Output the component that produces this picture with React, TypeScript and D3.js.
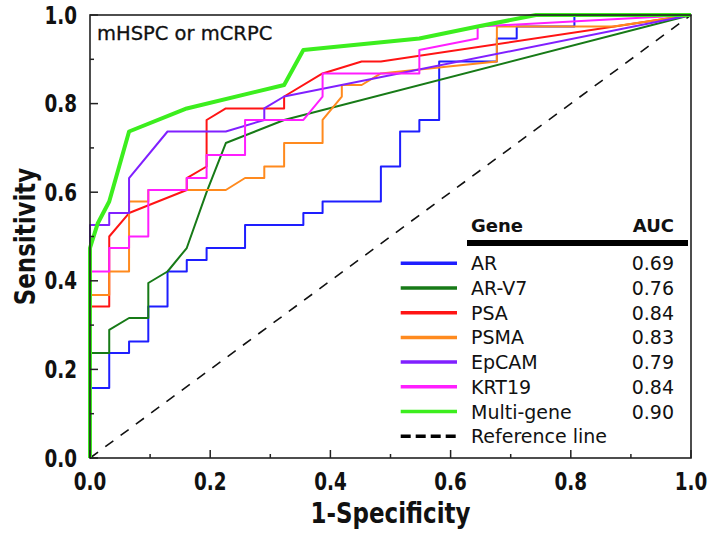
import * as d3 from "d3";

// ROC curves, mHSPC or mCRPC
const genes = ["AR", "AR-V7", "PSA", "PSMA", "EpCAM", "KRT19", "Multi-gene"];
const aucs = ["0.69", "0.76", "0.84", "0.83", "0.79", "0.84", "0.90"];
const colors = ["#1e1eff", "#177a17", "#ff1414", "#ff8a1e", "#8020ff", "#ff1eff", "#3cee1e"];

const arFpr = [0, 0, 0.032, 0.032, 0.065, 0.065, 0.097, 0.097, 0.129, 0.129, 0.161, 0.161, 0.194, 0.194, 0.258, 0.258, 0.355, 0.355, 0.387, 0.387, 0.484, 0.484, 0.516, 0.516, 0.548, 0.548, 0.581, 0.581, 0.677, 0.677, 0.71, 0.71, 0.806, 0.806, 1];
const arTpr = [0, 0.158, 0.158, 0.237, 0.237, 0.263, 0.263, 0.342, 0.342, 0.421, 0.421, 0.447, 0.447, 0.474, 0.474, 0.526, 0.526, 0.553, 0.553, 0.579, 0.579, 0.658, 0.658, 0.737, 0.737, 0.763, 0.763, 0.895, 0.895, 0.947, 0.947, 0.974, 0.974, 1, 1];

const arv7Fpr = [0, 0, 0.032, 0.032, 0.065, 0.097, 0.097, 0.129, 0.161, 0.194, 0.226, 0.323, 1];
const arv7Tpr = [0, 0.237, 0.237, 0.289, 0.316, 0.316, 0.395, 0.421, 0.474, 0.6, 0.711, 0.763, 1];

const psaFpr = [0, 0, 0.032, 0.032, 0.065, 0.161, 0.161, 0.194, 0.194, 0.226, 0.323, 0.323, 0.387, 0.452, 0.484, 1];
const psaTpr = [0, 0.342, 0.342, 0.5, 0.553, 0.605, 0.632, 0.658, 0.763, 0.789, 0.789, 0.816, 0.868, 0.895, 0.895, 1];

const psmaFpr = [0, 0, 0.032, 0.032, 0.065, 0.065, 0.097, 0.097, 0.226, 0.258, 0.29, 0.29, 0.323, 0.323, 0.387, 0.387, 0.419, 0.419, 0.452, 0.484, 0.677, 0.677, 0.871, 1];
const psmaTpr = [0, 0.368, 0.368, 0.421, 0.421, 0.579, 0.579, 0.605, 0.605, 0.632, 0.632, 0.658, 0.658, 0.711, 0.711, 0.763, 0.816, 0.842, 0.842, 0.868, 0.895, 0.974, 0.974, 1];

const epcamFpr = [0, 0, 0.032, 0.032, 0.065, 0.065, 0.129, 0.226, 0.29, 0.29, 0.323, 1];
const epcamTpr = [0, 0.526, 0.526, 0.553, 0.553, 0.632, 0.737, 0.737, 0.763, 0.789, 0.816, 1];

const krt19Fpr = [0, 0, 0.032, 0.032, 0.065, 0.065, 0.097, 0.097, 0.161, 0.161, 0.194, 0.194, 0.258, 0.258, 0.355, 0.387, 0.387, 0.548, 0.548, 0.645, 0.645, 1];
const krt19Tpr = [0, 0.421, 0.421, 0.474, 0.474, 0.5, 0.5, 0.605, 0.605, 0.632, 0.632, 0.684, 0.684, 0.763, 0.763, 0.816, 0.868, 0.868, 0.921, 0.947, 0.974, 1];

const multiFpr = [0, 0, 0.013, 0.032, 0.065, 0.161, 0.323, 0.355, 0.548, 0.645, 0.742, 1];
const multiTpr = [0, 0.474, 0.53, 0.579, 0.737, 0.789, 0.842, 0.921, 0.947, 0.974, 1, 1];

const fprs = [arFpr, arv7Fpr, psaFpr, psmaFpr, epcamFpr, krt19Fpr, multiFpr];
const tprs = [arTpr, arv7Tpr, psaTpr, psmaTpr, epcamTpr, krt19Tpr, multiTpr];

const tickValues = [0, 0.2, 0.4, 0.6, 0.8, 1];
const tickLabels = ["0.0", "0.2", "0.4", "0.6", "0.8", "1.0"];

const W = 709;
const H = 533;
const labelFont = "'DejaVu Sans Condensed', 'DejaVu Sans', sans-serif";
const textFont = "'DejaVu Sans', sans-serif";

export default function App() {
  const x = d3.scaleLinear().domain([0, 1]).range([90, 691]);
  const y = d3.scaleLinear().domain([0, 1]).range([458, 15]);

  const line = d3
    .line<[number, number]>()
    .x((d) => x(d[0]))
    .y((d) => y(d[1]));

  const minor = x.ticks(10).filter((t) => !tickValues.some((m) => Math.abs(m - t) < 1e-6));

  const legendY = (i: number) => 263.3 + i * 24.7;

  return (
    <div style={{ position: "fixed", left: 0, top: 0 }}>
      <svg width={W} height={H} style={{ display: "block", background: "#fff" }}>
        {/* reference line */}
        <path
          d={line([[0, 0], [1, 1]]) ?? ""}
          fill="none"
          stroke="#111"
          strokeWidth={1.6}
          strokeDasharray="10,9"
        />

        {/* ROC curves */}
        {genes.map((g, i) => (
          <path
            key={g}
            d={line(fprs[i].map((f, k) => [f, tprs[i][k]] as [number, number])) ?? ""}
            fill="none"
            stroke={colors[i]}
            strokeWidth={g === "Multi-gene" ? 4 : 2}
            strokeLinejoin="round"
          />
        ))}

        {/* frame */}
        <rect x={x(0)} y={y(1)} width={x(1) - x(0)} height={y(0) - y(1)} fill="none" stroke="#222" strokeWidth={1.6} />

        {/* ticks */}
        {tickValues.map((t) => (
          <g key={"maj" + t}>
            <line x1={x(t)} x2={x(t)} y1={y(0)} y2={y(0) - 8} stroke="#222" strokeWidth={1.5} />
            <line x1={x(0)} x2={x(0) + 8} y1={y(t)} y2={y(t)} stroke="#222" strokeWidth={1.5} />
          </g>
        ))}
        {minor.map((t) => (
          <g key={"min" + t}>
            <line x1={x(t)} x2={x(t)} y1={y(0)} y2={y(0) - 4} stroke="#222" strokeWidth={1.5} />
            <line x1={x(0)} x2={x(0) + 4} y1={y(t)} y2={y(t)} stroke="#222" strokeWidth={1.5} />
          </g>
        ))}

        {/* tick labels, narrowed like the original */}
        {tickValues.map((t, i) => (
          <g key={"lab" + t} fontFamily={labelFont} fontWeight="bold" fontSize={24} fill="#111">
            <text transform={`translate(${x(t)},490) scale(0.85,1)`} textAnchor="middle">
              {tickLabels[i]}
            </text>
            <text transform={`translate(77,${y(t) + 8.5}) scale(0.85,1)`} textAnchor="end">
              {tickLabels[i]}
            </text>
          </g>
        ))}

        {/* axis titles */}
        <text
          transform="translate(390.5,523) scale(0.88,1)"
          textAnchor="middle"
          fontFamily={labelFont}
          fontWeight="bold"
          fontSize={29}
          fill="#111"
        >
          1-Specificity
        </text>
        <text
          transform="translate(35,236.5) rotate(-90) scale(0.88,1)"
          textAnchor="middle"
          fontFamily={labelFont}
          fontWeight="bold"
          fontSize={29}
          fill="#111"
        >
          Sensitivity
        </text>

        {/* panel title */}
        <text x={97} y={39.5} fontFamily={textFont} fontSize={19.5} fill="#111" stroke="#111" strokeWidth={0.3}>
          mHSPC or mCRPC
        </text>

        {/* legend */}
        <g fontFamily={textFont} fill="#111">
          <text x={471} y={232} fontSize={18} fontWeight="bold">
            Gene
          </text>
          <text x={674} y={232} fontSize={18} fontWeight="bold" textAnchor="end">
            AUC
          </text>
          <rect x={467} y={240} width={221} height={6} fill="#000" />
          {genes.map((g, i) => (
            <g key={"leg" + g}>
              <line x1={400.7} x2={457} y1={legendY(i)} y2={legendY(i)} stroke={colors[i]} strokeWidth={3.5} />
              <text x={471} y={legendY(i) + 7} fontSize={19}>
                {g}
              </text>
              <text x={674} y={legendY(i) + 7} fontSize={19} textAnchor="end">
                {aucs[i]}
              </text>
            </g>
          ))}
          <line
            x1={400.7}
            x2={457}
            y1={legendY(7)}
            y2={legendY(7)}
            stroke="#000"
            strokeWidth={3.5}
            strokeDasharray="10,5"
          />
          <text x={471} y={legendY(7) + 7} fontSize={19}>
            Reference line
          </text>
        </g>
      </svg>
    </div>
  );
}
